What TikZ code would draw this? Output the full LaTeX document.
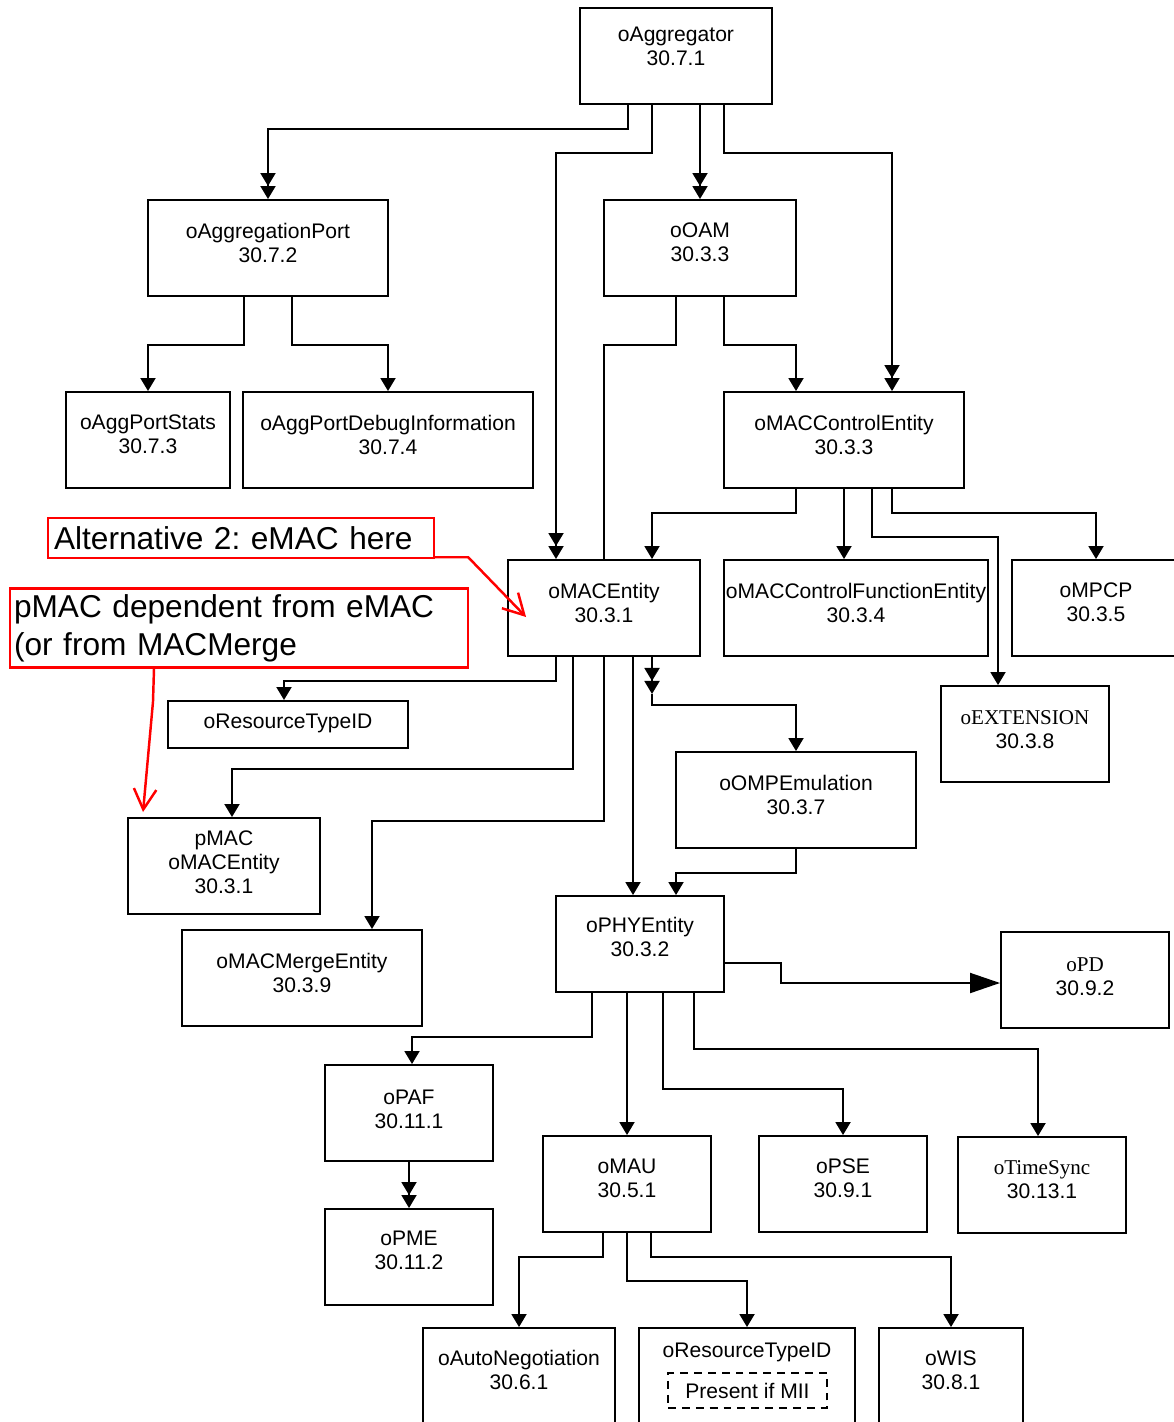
\documentclass[tikz,border=0pt]{standalone}
\usepackage{fontspec}
\setmainfont{Liberation Sans}
\newfontfamily\timesfont{Liberation Serif}
\usetikzlibrary{arrows.meta,calc}
\tikzset{
	obj/.style 2 args={draw, minimum width=#1*0.02cm, minimum height=#2*0.02cm, inner sep=0pt},
	title/.style={anchor=north, yshift=-#1*0.02cm, align=center, inner sep=0pt, font=\fontsize{12}{13.6}\selectfont},
	title/.default=23,
	arr/.style={-{Triangle[length=0.26cm,width=0.3cm]}},
	arr2/.style={-{Triangle[length=0.26cm,width=0.3cm,sep=0pt]Triangle[length=0.26cm,width=0.3cm,sep=0pt]}},
	arrbig/.style={-{Triangle[length=0.6cm,width=0.4cm]}},
	note/.style={draw=red, line width=1.4pt, align=left, font=\fontsize{18}{21.5}\selectfont\frenchspacing},
	redarr/.style={red, line width=1.4pt, -{Straight Barb[length=0.41cm,width=0.45cm]}}
}
\begin{document}
\begin{tikzpicture}[x=0.02cm, y=-0.02cm, line width=1.1pt]
	\useasboundingbox (0,0) rectangle (1173,1422);
	\node[obj={192}{96}, label={[title=19]north:oAggregator\\30.7.1}] (agg) at (676,56) {};
	\node[obj={240}{96}, label={[title]north:oAggregationPort\\30.7.2}] (aport) at (268,248) {};
	\node[obj={192}{96}, label={[title]north:oOAM\\30.3.3}] (oam) at (700,248) {};
	\node[obj={164}{96}, label={[title]north:oAggPortStats\\30.7.3}] (pstats) at (148,440) {};
	\node[obj={290}{96}, label={[title]north:oAggPortDebugInformation\\30.7.4}] (pdebug) at (388,440) {};
	\node[obj={240}{96}, label={[title]north:oMACControlEntity\\30.3.3}] (mce) at (844,440) {};
	\node[obj={192}{96}, label={[title]north:oMACEntity\\30.3.1}] (ment) at (604,608) {};
	\node[obj={264}{96}, label={[title]north:oMACControlFunctionEntity\\30.3.4}] (mcfe) at (856,608) {};
	\node[obj={168}{96}, label={[title]north:oMPCP\\30.3.5}] (mpcp) at (1096,608) {};
	\node[obj={168}{96}, label={[title=25]north:{\timesfont oEXTENSION}\\30.3.8}] (ext) at (1025,734) {};
	\node[obj={240}{47}, label={[title=13]north:oResourceTypeID}] (rtid) at (288,724.5) {};
	\node[obj={240}{96}, label={[title]north:oOMPEmulation\\30.3.7}] (ompe) at (796,800) {};
	\node[obj={192}{96}, label={[title=13]north:pMAC\\oMACEntity\\30.3.1}] (pmac) at (224,866) {};
	\node[obj={240}{96}, label={[title]north:oMACMergeEntity\\30.3.9}] (merge) at (302,978) {};
	\node[obj={168}{96}, label={[title=21]north:oPHYEntity\\30.3.2}] (phy) at (640,944) {};
	\node[obj={168}{96}, label={[title=26]north:{\timesfont oPD}\\30.9.2}] (pd) at (1085,980) {};
	\node[obj={168}{96}, label={[title=25]north:oPAF\\30.11.1}] (paf) at (409,1113) {};
	\node[obj={168}{96}, label={[title=22]north:oPME\\30.11.2}] (pme) at (409,1257) {};
	\node[obj={168}{96}, label={[title]north:oMAU\\30.5.1}] (mau) at (627,1184) {};
	\node[obj={168}{96}, label={[title]north:oPSE\\30.9.1}] (pse) at (843,1184) {};
	\node[obj={168}{96}, label={[title=24]north:{\timesfont oTimeSync}\\30.13.1}] (tsync) at (1042,1185) {};
	\node[obj={192}{96}, label={[title=22]north:oAutoNegotiation\\30.6.1}] (autoneg) at (519,1376) {};
	\node[obj={216}{96}, label={[title=15]north:oResourceTypeID}] (rtid2) at (747,1376) {};
	\node[obj={159}{35}, dash pattern=on 4.5pt off 3.4pt, font=\fontsize{12}{13.6}\selectfont] (mii) at (747.5,1390.5) {Present if MII};
	\node[obj={144}{96}, label={[title]north:oWIS\\30.8.1}] (wis) at (951,1376) {};

	\node[note, minimum height=0.8cm, inner xsep=0.12cm, text width=7.48cm] (alt) at (241,538) {Alternative 2: eMAC here};
	\node[note, minimum height=1.56cm, inner xsep=0.08cm, text width=9.0cm] (pdep) at (239,628) {pMAC dependent from eMAC\\(or from MACMerge};

	\draw[arr2] ($(agg.south)+(-48,0)$) -- ++(0,24) -| (aport.north);
	\draw[arr2] ($(agg.south)+(-24,0)$) -- ++(0,48) -| ($(ment.north)+(-48,0)$);
	\draw[arr2] ($(agg.south)+(24,0)$) -- (oam.north);
	\draw[arr2] ($(agg.south)+(48,0)$) -- ++(0,48) -| ($(mce.north)+(48,0)$);
	\draw[arr] ($(aport.south)+(-24,0)$) -- ++(0,48) -| (pstats.north);
	\draw[arr] ($(aport.south)+(24,0)$) -- ++(0,48) -| (pdebug.north);
	\draw ($(oam.south)+(-24,0)$) -- ++(0,48) -| (ment.north);
	\draw[arr] ($(oam.south)+(24,0)$) -- ++(0,48) -| ($(mce.north)+(-48,0)$);
	\draw[arr] ($(mce.south)+(-48,0)$) -- ++(0,24) -| ($(ment.north)+(48,0)$);
	\draw[arr] (mce.south) -- (mce.south |- mcfe.north);
	\draw[arr] ($(mce.south)+(28,0)$) -- ++(0,48) -| ($(ext.north)+(-27,0)$);
	\draw[arr] ($(mce.south)+(48,0)$) -- ++(0,24) -| (mpcp.north);
	\draw[arr] ($(ment.south)+(-48,0)$) -- ++(0,24) -| ($(rtid.north)+(-4,0)$);
	\draw[arr] ($(ment.south)+(-31,0)$) -- ++(0,112) -| ($(pmac.north)+(8,0)$);
	\draw[arr] (ment.south) -- ++(0,164) -| ($(merge.north)+(70,0)$);
	\draw[arr] ($(ment.south)+(29,0)$) -- ($(phy.north)+(-7,0)$);
	\draw[arr2] ($(ment.south)+(48,0)$) -- ++(0,37) coordinate (k);
	\draw[arr] (k) -- ++(0,11) -| (ompe.north);
	\draw[arr] (ompe.south) -- ++(0,24) -| ($(phy.north)+(36,0)$);
	\draw[arrbig] ($(phy.east)+(0,19)$) -- ++(56,0) |- ($(pd.west)+(0,3)$);
	\draw[arr] ($(phy.south)+(-48,0)$) -- ++(0,44) -| ($(paf.north)+(3,0)$);
	\draw[arr] ($(phy.south)+(-13,0)$) -- (mau.north);
	\draw[arr] ($(phy.south)+(23,0)$) -- ++(0,96) -| (pse.north);
	\draw[arr] ($(phy.south)+(54,0)$) -- ++(0,56) -| ($(tsync.north)+(-4,0)$);
	\draw[arr2] (paf.south) -- (pme.north);
	\draw[arr] ($(mau.south)+(-24,0)$) -- ++(0,24) -| (autoneg.north);
	\draw[arr] (mau.south) -- ++(0,48) -| (rtid2.north);
	\draw[arr] ($(mau.south)+(24,0)$) -- ++(0,24) -| (wis.north);

	\draw[redarr] ($(alt.south east)+(0,-2)$) -- ++(33,0) -- ($(ment.west)+(19,9)$);
	\draw[redarr] ($(pdep.south)+(-85,0)$) -- ++(-1,33) -- ($(pmac.north west)+(16,-5)$);
\end{tikzpicture}
\end{document}
